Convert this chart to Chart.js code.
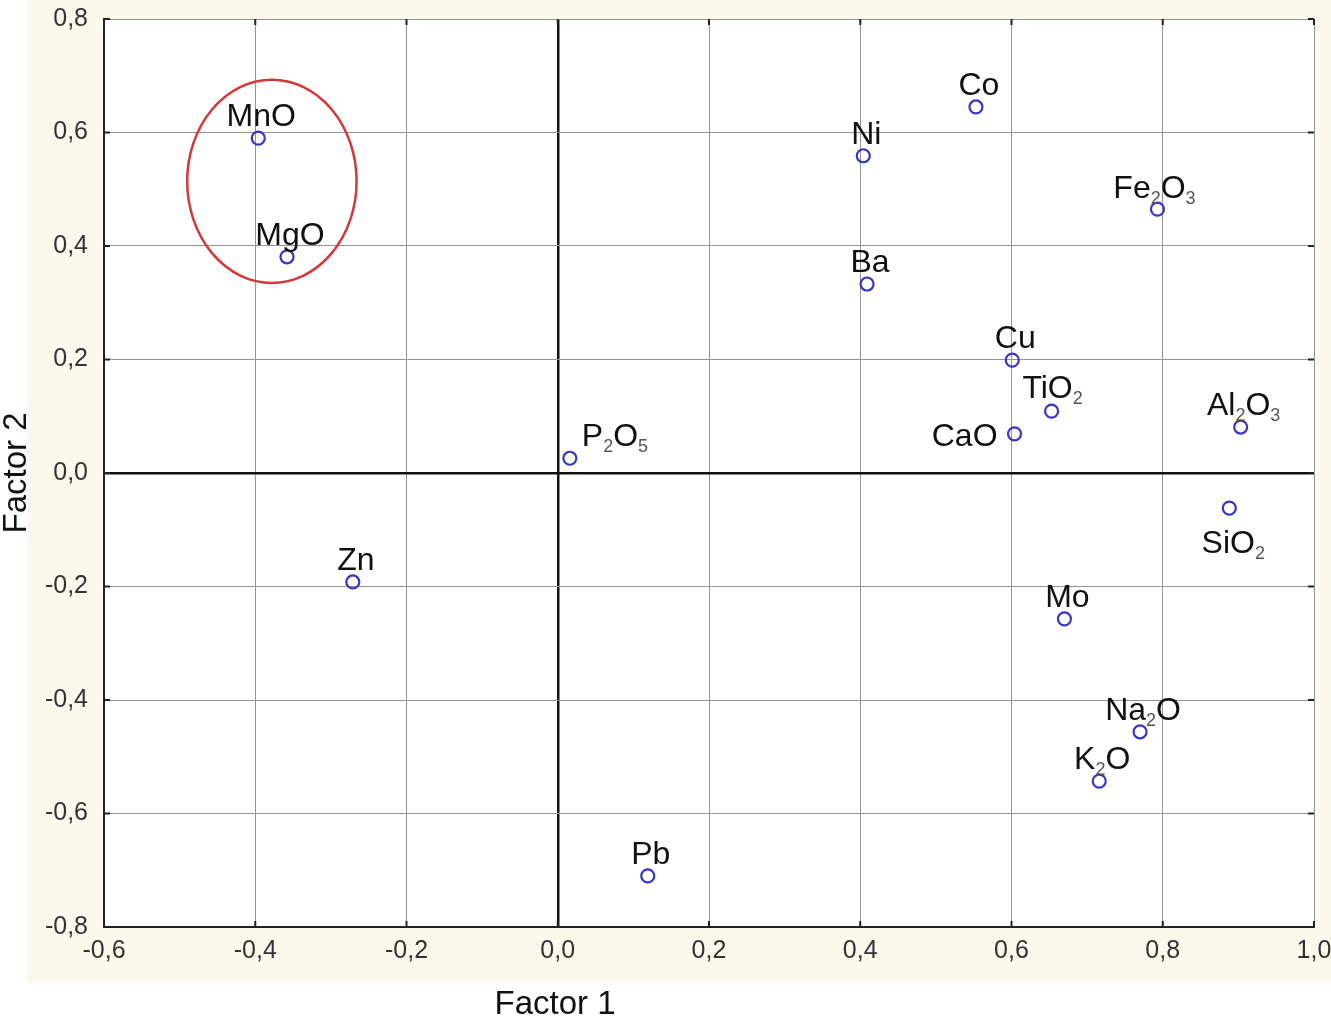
<!DOCTYPE html>
<html>
<head>
<meta charset="utf-8">
<script src="https://cdn.jsdelivr.net/npm/chart.js@4"></script>
<style>
  body { margin: 0; background: #fff; }
  canvas { display: block; }
</style>
</head>
<body>
<canvas id="chart" width="1331" height="1022"></canvas>
<script>
// componentes (o "_n" vira subscrito no rótulo)
const names = ["MnO", "MgO", "Zn", "P_2O_5", "Pb", "Ni", "Ba", "Co", "Cu", "CaO",
  "TiO_2", "Fe_2O_3", "Al_2O_3", "SiO_2", "Mo", "Na_2O", "K_2O"];
const factor1 = [-0.396, -0.358, -0.271, 0.016, 0.119, 0.404, 0.409, 0.553, 0.601, 0.604,
  0.653, 0.793, 0.903, 0.888, 0.670, 0.770, 0.716];
const factor2 = [0.590, 0.381, -0.192, 0.026, -0.710, 0.559, 0.333, 0.645, 0.199, 0.069,
  0.109, 0.465, 0.081, -0.062, -0.257, -0.456, -0.543];

// limites dos eixos
const xRange = [-0.6, 1.0];
const yRange = [-0.8, 0.8];
const tickStep = 0.2;

// elipse vermelha em volta de MnO / MgO (unidades dos dados)
const groupEllipse = { cx: -0.378, cy: 0.514, rx: 0.112, ry: 0.179 };

// posição dos rótulos (px em relação ao ponto)
const labelPos = {
  "CaO": { dx: -17, dy: 12, align: "right" },
  "P_2O_5": { dx: 12, dy: -12, align: "left" },
  "SiO_2": { dx: 4, dy: 45, align: "center" },
  "Fe_2O_3": { dx: -3, dy: -11, align: "center" },
  "TiO_2": { dx: 1, dy: -13, align: "center" }
};
const defaultPos = { dx: 3, dy: -12, align: "center" };

const FONT = '"Liberation Sans", Arial, sans-serif';

function fmt(v) {
  if (Math.abs(v) < 1e-9) v = 0;
  return v.toFixed(1).replace(".", ",");
}

function drawChem(ctx, txt, x, y, align) {
  const parts = txt.split(/_(\d)/);
  const big = "32px " + FONT, small = "18px " + FONT;
  let w = 0;
  parts.forEach((p, i) => {
    ctx.font = i % 2 ? small : big;
    w += ctx.measureText(p).width;
  });
  let cx = align == "left" ? x : align == "right" ? x - w : x - w / 2;
  ctx.textAlign = "left";
  ctx.textBaseline = "alphabetic";
  parts.forEach((p, i) => {
    ctx.font = i % 2 ? small : big;
    ctx.fillStyle = i % 2 ? "#555" : "#111";
    ctx.fillText(p, cx, i % 2 ? y + 6 : y);
    cx += ctx.measureText(p).width;
  });
}

const decor = {
  id: "decor",
  beforeDraw(chart) {
    const ctx = chart.ctx, a = chart.chartArea;
    ctx.save();
    ctx.fillStyle = "#fdf8ec";
    ctx.fillRect(27, 0, chart.width - 27, 983);
    ctx.fillStyle = "#fff";
    ctx.fillRect(a.left, a.top, a.right - a.left, a.bottom - a.top);
    ctx.restore();
  },
  afterDraw(chart) {
    const ctx = chart.ctx, a = chart.chartArea;
    const xs = chart.scales.x, ys = chart.scales.y;
    ctx.save();
    // marcas internas nos quatro lados
    ctx.strokeStyle = "#222";
    ctx.lineWidth = 2;
    xs.ticks.forEach(t => {
      const px = xs.getPixelForValue(t.value);
      ctx.beginPath();
      ctx.moveTo(px, a.top); ctx.lineTo(px, a.top + 6);
      ctx.moveTo(px, a.bottom); ctx.lineTo(px, a.bottom - 6);
      ctx.stroke();
    });
    ys.ticks.forEach(t => {
      const py = ys.getPixelForValue(t.value);
      ctx.beginPath();
      ctx.moveTo(a.left, py); ctx.lineTo(a.left + 6, py);
      ctx.moveTo(a.right, py); ctx.lineTo(a.right - 6, py);
      ctx.stroke();
    });

    // elipse
    const e = groupEllipse;
    const ecx = xs.getPixelForValue(e.cx), ecy = ys.getPixelForValue(e.cy);
    const erx = Math.abs(xs.getPixelForValue(e.cx + e.rx) - ecx);
    const ery = Math.abs(ys.getPixelForValue(e.cy + e.ry) - ecy);
    ctx.strokeStyle = "#d23a3a";
    ctx.lineWidth = 2.5;
    ctx.beginPath();
    ctx.ellipse(ecx, ecy, erx, ery, 0, 0, Math.PI * 2);
    ctx.stroke();

    // rótulos dos pontos
    names.forEach((n, i) => {
      const p = labelPos[n] || defaultPos;
      const px = xs.getPixelForValue(factor1[i]);
      const py = ys.getPixelForValue(factor2[i]);
      drawChem(ctx, n, px + p.dx, py + p.dy, p.align);
    });

    // títulos dos eixos
    ctx.fillStyle = "#111";
    ctx.font = "33px " + FONT;
    ctx.textAlign = "center";
    ctx.textBaseline = "middle";
    ctx.fillText("Factor 1", 555, 1005);
    ctx.translate(17, 473);
    ctx.rotate(-Math.PI / 2);
    ctx.fillText("Factor 2", 0, 0);
    ctx.restore();
  }
};

function gridColor(c) {
  return Math.abs(c.tick.value) < 1e-9 ? "#111" : "#949494";
}
function gridWidth(c) {
  return Math.abs(c.tick.value) < 1e-9 ? 2.5 : 1;
}

const ctx = document.getElementById("chart").getContext("2d");

new Chart(ctx, {
  type: "scatter",
  data: {
    datasets: [{
      label: "Cargas",
      data: factor1.map((v, i) => ({ x: v, y: factor2[i] })),
      pointRadius: 6.5,
      pointHoverRadius: 6.5,
      pointStyle: "circle",
      backgroundColor: "rgba(0,0,0,0)",
      borderColor: "#3636c8",
      borderWidth: 2.2
    }]
  },
  options: {
    responsive: false,
    devicePixelRatio: 1,
    animation: false,
    layout: { padding: { top: 19, right: 17, left: 0, bottom: 0 } },
    plugins: {
      legend: { display: false },
      tooltip: { enabled: false }
    },
    scales: {
      x: {
        type: "linear",
        min: xRange[0], max: xRange[1],
        afterFit(s) { s.height = 95; s.paddingLeft = 0; s.paddingRight = 0; },
        ticks: {
          stepSize: tickStep,
          callback: v => fmt(v),
          font: { family: FONT, size: 25 },
          color: "#333",
          padding: 9,
          maxRotation: 0
        },
        grid: { color: gridColor, lineWidth: gridWidth, drawTicks: false },
        border: { display: true, color: "#222", width: 2 }
      },
      y: {
        type: "linear",
        min: yRange[0], max: yRange[1],
        afterFit(s) { s.width = 104; s.paddingTop = 0; s.paddingBottom = 0; },
        ticks: {
          stepSize: tickStep,
          callback: v => fmt(v),
          font: { family: FONT, size: 25 },
          color: "#333",
          padding: 16
        },
        grid: { color: gridColor, lineWidth: gridWidth, drawTicks: false },
        border: { display: true, color: "#222", width: 2 }
      }
    }
  },
  plugins: [decor]
});
</script>
</body>
</html>
